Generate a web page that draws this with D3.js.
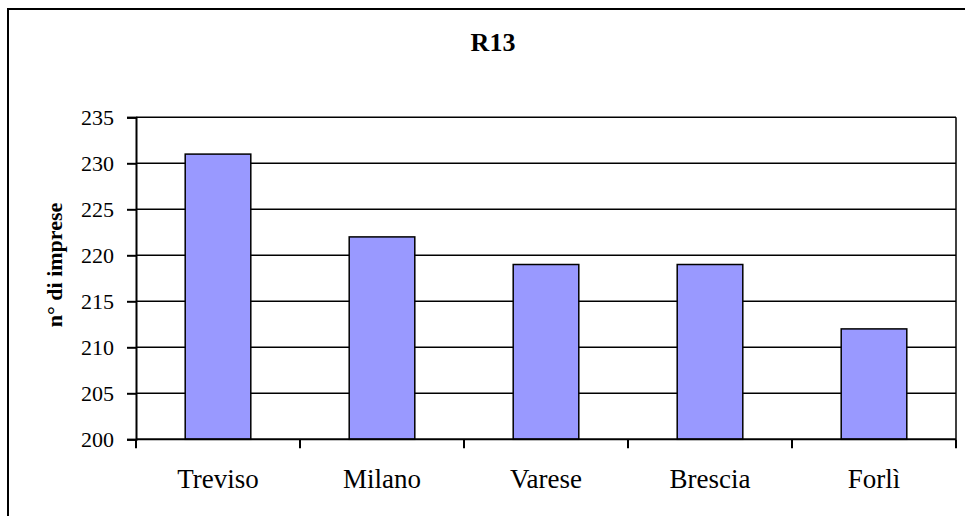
<!DOCTYPE html>
<html>
<head>
<meta charset="utf-8">
<script src="https://cdn.jsdelivr.net/npm/d3@7"></script>
<style>
  body { margin: 0; background: #fff; }
  text { font-family: "Liberation Serif", "Times New Roman", serif; fill: #000; }
</style>
</head>
<body>
<div id="chart"></div>
<script>
// data
var cities = ["Treviso", "Milano", "Varese", "Brescia", "Forlì"];
var imprese = [231, 222, 219, 219, 212];
var yTicks = [200, 205, 210, 215, 220, 225, 230, 235];

var W = 965, H = 516;
var plot = {left: 136, right: 956, top: 117.3, bottom: 439.3};

var svg = d3.select("#chart").append("svg")
    .attr("width", W)
    .attr("height", H);

// outer frame (only left/top are inside the picture)
svg.append("rect")
    .attr("x", 8).attr("y", 9)
    .attr("width", 1000).attr("height", 600)
    .attr("fill", "none")
    .attr("stroke", "#000")
    .attr("stroke-width", 2);

var x = d3.scaleBand()
    .domain(cities)
    .range([plot.left, plot.right])
    .paddingInner(0.6)
    .paddingOuter(0.3);

var y = d3.scaleLinear()
    .domain([200, 235])
    .range([plot.bottom, plot.top]);

// gridlines
svg.append("g")
    .selectAll("line")
    .data(yTicks.slice(1))
    .enter().append("line")
    .attr("x1", plot.left).attr("x2", plot.right)
    .attr("y1", function(d) { return y(d); })
    .attr("y2", function(d) { return y(d); })
    .attr("stroke", "#000")
    .attr("stroke-width", 1.5);

// right edge of plot area
svg.append("line")
    .attr("x1", plot.right).attr("x2", plot.right)
    .attr("y1", plot.top).attr("y2", plot.bottom)
    .attr("stroke", "#000")
    .attr("stroke-width", 1.5);

// bars
svg.append("g")
    .selectAll("rect")
    .data(imprese)
    .enter().append("rect")
    .attr("x", function(d, i) { return x(cities[i]); })
    .attr("y", function(d) { return y(d); })
    .attr("width", x.bandwidth())
    .attr("height", function(d) { return y(200) - y(d); })
    .attr("fill", "#9999ff")
    .attr("stroke", "#000")
    .attr("stroke-width", 1.5);

// y axis
var yAxis = svg.append("g")
    .attr("transform", "translate(" + plot.left + ",0)")
    .call(d3.axisLeft(y).tickValues(yTicks).tickSize(9).tickPadding(13));
yAxis.select(".domain").attr("stroke", "#000").attr("stroke-width", 2);
yAxis.selectAll(".tick line").attr("stroke", "#000").attr("stroke-width", 2);
yAxis.selectAll("text")
    .attr("font-size", "22px")
    .attr("font-family", "Liberation Serif, serif");

// x axis: ticks on category boundaries
var step = x.step();
var bounds = d3.range(cities.length + 1).map(function(i) { return plot.left + i * step; });
var xg = svg.append("g");
xg.append("line")
    .attr("x1", plot.left).attr("x2", plot.right)
    .attr("y1", plot.bottom).attr("y2", plot.bottom)
    .attr("stroke", "#000").attr("stroke-width", 2);
xg.selectAll("line.tk")
    .data(bounds)
    .enter().append("line")
    .attr("class", "tk")
    .attr("x1", function(d) { return d; }).attr("x2", function(d) { return d; })
    .attr("y1", plot.bottom).attr("y2", plot.bottom + 9)
    .attr("stroke", "#000").attr("stroke-width", 2);
xg.selectAll("text")
    .data(cities)
    .enter().append("text")
    .attr("x", function(d) { return x(d) + x.bandwidth() / 2; })
    .attr("y", 488)
    .attr("text-anchor", "middle")
    .attr("font-size", "27px")
    .text(function(d) { return d; });

// title
svg.append("text")
    .attr("x", 493).attr("y", 51)
    .attr("text-anchor", "middle")
    .attr("font-size", "26px")
    .attr("font-weight", "bold")
    .text("R13");

// y axis label
svg.append("text")
    .attr("transform", "translate(62,265) rotate(-90)")
    .attr("text-anchor", "middle")
    .attr("font-size", "22px")
    .attr("font-weight", "bold")
    .text("n° di imprese");
</script>
</body>
</html>
